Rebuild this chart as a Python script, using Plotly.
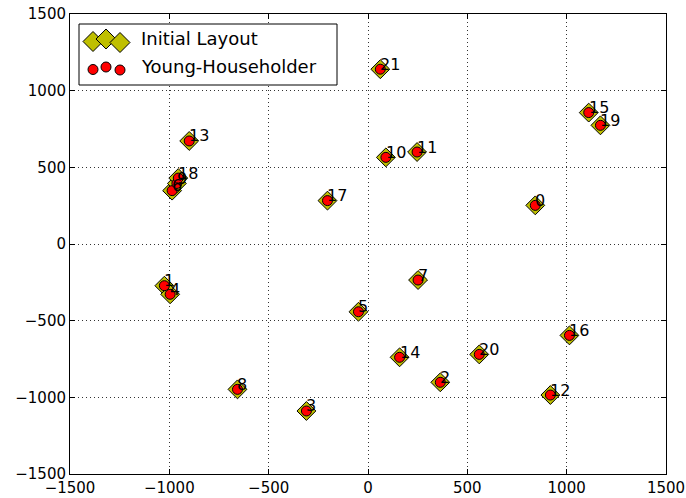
import plotly.graph_objects as go

# Node ids and coordinates of the two layouts
node_ids = [str(i) for i in range(22)]

initial_x = [842, -1025, 364, -310, -996, -48, -986, 252, -657, -962, 90,
             247, 918, -900, 159, 1111, 1014, -204, -955, 1170, 560, 62]
initial_y = [252, -272, -902, -1089, -328, -442, 348, -235, -948, 395, 565,
             600, -985, 672, -739, 857, -596, 283, 430, 774, -720, 1140]

young_x = [842, -1025, 364, -310, -996, -48, -986, 252, -657, -962, 90,
           247, 918, -900, 159, 1111, 1014, -204, -955, 1170, 560, 62]
young_y = [252, -272, -902, -1089, -328, -442, 348, -235, -948, 395, 565,
           600, -985, 672, -739, 857, -596, 283, 430, 774, -720, 1140]

series_names = ["Initial Layout", "Young-Householder"]
tick_vals = [-1500, -1000, -500, 0, 500, 1000, 1500]

FONT = "DejaVu Sans"
OLIVE = "#bfbf00"
RED = "#ff0000"

fig = go.Figure()

fig.add_trace(go.Scatter(
    x=initial_x, y=initial_y, mode="markers", name=series_names[0],
    marker=dict(symbol="diamond", size=14.5, color=OLIVE,
                line=dict(color="black", width=1)),
    showlegend=False,
))
fig.add_trace(go.Scatter(
    x=young_x, y=young_y, mode="markers", name=series_names[1],
    marker=dict(symbol="circle", size=10, color=RED,
                line=dict(color="black", width=1)),
    showlegend=False,
))

# Node labels, anchored at each node with the baseline on the point
for nid, x, y in zip(node_ids, young_x, young_y):
    fig.add_annotation(x=x, y=y, text=nid, showarrow=False,
                       xanchor="left", yanchor="bottom",
                       xshift=-2, yshift=-6.5,
                       font=dict(family=FONT, size=16, color="black"))

# Hand-built legend box with three-marker swatches
def px_to_paper(px, py):
    return (px - 70) / 596.0, (474 - py) / 460.0

shapes = []
bx0, by0 = px_to_paper(79, 85)
bx1, by1 = px_to_paper(337, 24)
shapes.append(dict(type="rect", xref="paper", yref="paper",
                   x0=bx0, y0=by0, x1=bx1, y1=by1,
                   line=dict(color="black", width=1), fillcolor="white",
                   layer="above"))

diamond_pts = [(93, 41.5), (106, 39), (120, 42.5)]
circle_pts = [(93, 69.5), (106, 67), (120, 70)]
for px, py in diamond_pts:
    ax, ay = px_to_paper(px, py)
    shapes.append(dict(type="path", xref="paper", yref="paper",
                       xsizemode="pixel", ysizemode="pixel",
                       xanchor=ax, yanchor=ay,
                       path="M -10 0 L 0 10 L 10 0 L 0 -10 Z",
                       line=dict(color="black", width=1), fillcolor=OLIVE,
                       layer="above"))
for px, py in circle_pts:
    ax, ay = px_to_paper(px, py)
    shapes.append(dict(type="circle", xref="paper", yref="paper",
                       xsizemode="pixel", ysizemode="pixel",
                       xanchor=ax, yanchor=ay,
                       x0=-5, x1=5, y0=-5, y1=5,
                       line=dict(color="black", width=1), fillcolor=RED,
                       layer="above"))

for name, py in zip(series_names, [38.5, 66]):
    ax, ay = px_to_paper(139, py)
    fig.add_annotation(x=ax, y=ay, xref="paper", yref="paper", text=name,
                       showarrow=False, xanchor="left", yanchor="middle",
                       font=dict(family=FONT, size=18, color="black"))

axis_common = dict(
    range=[-1500, 1500], tickvals=tick_vals, automargin=False,
    showgrid=True, gridcolor="rgba(0,0,0,0.8)", gridwidth=1,
    griddash="1px,3px", zeroline=False,
    showline=True, linecolor="black", linewidth=1, mirror="ticks",
    ticks="inside", ticklen=5, tickcolor="black", tickwidth=1,
    tickfont=dict(family=FONT, size=15, color="black"),
)

fig.update_layout(
    width=686, height=498,
    margin=dict(l=70, r=20, t=14, b=24, autoexpand=False),
    paper_bgcolor="white", plot_bgcolor="white",
    xaxis=dict(**axis_common),
    yaxis=dict(**axis_common),
    shapes=shapes,
    font=dict(family=FONT, color="black"),
)

fig.write_html("out.html")
